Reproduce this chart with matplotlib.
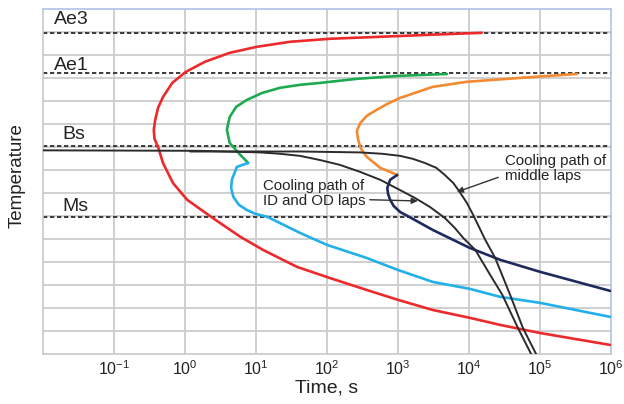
import numpy as np
import matplotlib
matplotlib.use("Agg")
import matplotlib.pyplot as plt

plt.rcParams['font.family'] = ['Liberation Sans', 'DejaVu Sans']
plt.rcParams['mathtext.fontset'] = 'custom'
plt.rcParams['mathtext.rm'] = 'Liberation Sans'
plt.rcParams['mathtext.it'] = 'Liberation Sans'
plt.rcParams['mathtext.default'] = 'regular'

# ---- data (log10 of time in s, temperature in arbitrary grid units) ----
red_logt = [4.18, 3.50, 2.04, 1.48, 1.01, 0.63, 0.28, 0.01, -0.18, -0.31, -0.38, -0.42, -0.44,
            -0.43, -0.38, -0.31, -0.17, 0.03, 0.39, 0.78, 1.10, 1.58, 2.04, 2.56, 3.00, 3.49,
            4.01, 4.44, 5.00, 5.99]
red_temp = [13.96, 13.88, 13.70, 13.57, 13.35, 13.09, 12.70, 12.26, 11.78, 11.17, 10.70, 10.17,
            9.74, 9.35, 9.00, 8.30, 7.43, 6.70, 5.91, 5.09, 4.52, 3.78, 3.30, 2.78, 2.35, 1.91,
            1.57, 1.26, 0.91, 0.39]

green_logt = [3.69, 3.03, 2.42, 1.90, 1.62, 1.34, 1.09, 0.87, 0.72, 0.63, 0.61, 0.59, 0.63, 0.78, 0.89]
green_temp = [12.17, 12.09, 11.96, 11.78, 11.70, 11.57, 11.35, 11.04, 10.74, 10.30, 10.04, 9.74,
              9.17, 8.65, 8.30]

blue_logt = [0.89, 0.73, 0.66, 0.65, 0.68, 0.76, 0.87, 0.99, 1.16, 1.62, 2.00, 2.56, 3.00, 3.49,
             4.01, 4.44, 5.00, 5.99]
blue_temp = [8.30, 8.13, 7.57, 7.22, 6.83, 6.48, 6.26, 6.09, 5.96, 5.26, 4.74, 4.17, 3.65, 3.13,
             2.83, 2.48, 2.22, 1.61]

orange_logt = [5.52, 4.90, 3.97, 3.49, 3.03, 2.85, 2.70, 2.56, 2.47, 2.42, 2.44, 2.48, 2.56, 2.75, 2.99]
orange_temp = [12.17, 12.04, 11.83, 11.61, 11.13, 10.87, 10.61, 10.35, 10.04, 9.70, 9.30, 8.91,
               8.57, 8.09, 7.78]

navy_logt = [2.99, 2.89, 2.85, 2.86, 2.89, 2.94, 3.03, 3.21, 3.49, 4.01, 4.44, 5.00, 5.99]
navy_temp = [7.78, 7.57, 7.22, 6.96, 6.70, 6.43, 6.17, 5.87, 5.39, 4.61, 4.09, 3.57, 2.74]

idod_logt = [-2.00, 0.21, 1.06, 1.34, 1.62, 1.90, 2.18, 2.47, 2.75, 3.00, 3.24, 3.45, 3.66,
             3.80, 3.92, 4.09, 4.30, 4.47, 4.69, 4.89]
idod_temp = [8.85, 8.83, 8.76, 8.70, 8.61, 8.43, 8.22, 7.91, 7.57, 7.17, 6.78, 6.39, 5.91,
             5.48, 5.04, 4.52, 3.43, 2.57, 1.13, -0.09]

mid_logt = [0.07, 1.62, 2.47, 2.78, 3.03, 3.21, 3.38, 3.54, 3.66, 3.78, 3.87, 3.97, 4.06, 4.23,
            4.37, 4.58, 4.76, 4.96]
mid_temp = [8.80, 8.80, 8.76, 8.70, 8.61, 8.48, 8.30, 8.09, 7.78, 7.43, 7.04, 6.57, 6.04, 4.96,
            4.17, 2.57, 1.13, -0.09]

levels = {'Ae3': 13.96, 'Ae1': 12.2, 'Bs': 9.05, 'Ms': 5.96}
tick_exps = [-1, 0, 1, 2, 3, 4, 5, 6]


def t(logs):
    return 10.0 ** np.asarray(logs)


fig = plt.figure(figsize=(6.24, 4.04), dpi=100)
ax = fig.add_axes([0.069, 0.124, 0.910, 0.854])
ax.set_xscale('log')
ax.set_xlim(1e-2, 1e6)
ax.set_ylim(0, 15)

# grid
for e in range(-1, 6):
    ax.axvline(10.0 ** e, color='#cccccc', lw=1.3, zorder=0)
for yv in range(1, 15):
    ax.axhline(yv, color='#cccccc', lw=1.3, zorder=0)

for name, val in levels.items():
    ax.axhline(val, color='#3a3a3a', lw=1.4, ls=(0, (2.2, 1.4)), zorder=1)

lw = 1.9
kw = dict(solid_joinstyle='round', solid_capstyle='round')
ax.plot(t(red_logt), red_temp, color='#ec2a2c', lw=lw, zorder=3, **kw)
ax.plot(t(green_logt), green_temp, color='#1eaa50', lw=lw, zorder=3, **kw)
ax.plot(t(blue_logt), blue_temp, color='#22b0ea', lw=lw, zorder=3, **kw)
ax.plot(t(orange_logt), orange_temp, color='#f28a32', lw=lw, zorder=3, **kw)
ax.plot(t(navy_logt), navy_temp, color='#1e2a5e', lw=lw, zorder=3, **kw)
ax.plot(t(idod_logt), idod_temp, color='#2b2b2b', lw=1.4, zorder=4, **kw)
ax.plot(t(mid_logt), mid_temp, color='#2b2b2b', lw=1.4, zorder=4, **kw)

# level labels
lab_pos = {'Ae3': (0.0143, 14.52), 'Ae1': (0.0143, 12.52), 'Bs': (0.0185, 9.52), 'Ms': (0.0185, 6.43)}
for name, (x, y) in lab_pos.items():
    ax.text(x, y, name, fontsize=14, color='#222222', va='center', ha='left', zorder=5)

# annotations
ax.annotate('Cooling path of\nmiddle laps', xy=(10 ** 3.83, 7.04), xytext=(10 ** 4.507, 8.07),
            fontsize=10.8, color='#222222', ha='left', va='center', linespacing=1.1,
            arrowprops=dict(arrowstyle='-|>', color='#333333', lw=1.0, mutation_scale=9,
                            shrinkA=3, shrinkB=0, relpos=(0.0, 0.27)), zorder=6)
ax.annotate('Cooling path of\nID and OD laps', xy=(10 ** 3.28, 6.65), xytext=(10 ** 1.10, 6.96),
            fontsize=10.8, color='#222222', ha='left', va='center', linespacing=1.1,
            arrowprops=dict(arrowstyle='-|>', color='#333333', lw=1.0, mutation_scale=9,
                            shrinkA=1, shrinkB=0, relpos=(1.0, 0.3)), zorder=6)

ax.set_xticks([10.0 ** e for e in tick_exps])
ax.set_xticklabels(['$10^{%d}$' % e for e in tick_exps], fontsize=11.5)
ax.xaxis.set_minor_locator(matplotlib.ticker.NullLocator())
ax.tick_params(axis='x', length=0, pad=4, colors='#222222')
ax.set_yticks([])
ax.set_xlabel('Time, s', fontsize=14, color='#222222', labelpad=1)
ax.set_ylabel('Temperature', fontsize=13.5, color='#222222')
ax.yaxis.set_label_coords(-0.030, 0.516)

for s in ['left', 'bottom']:
    ax.spines[s].set_color('#c8c8c8')
for s in ['top', 'right']:
    ax.spines[s].set_color('#aec4e6')
for s in ax.spines.values():
    s.set_linewidth(1.2)

fig.savefig('out.png', dpi=100)
